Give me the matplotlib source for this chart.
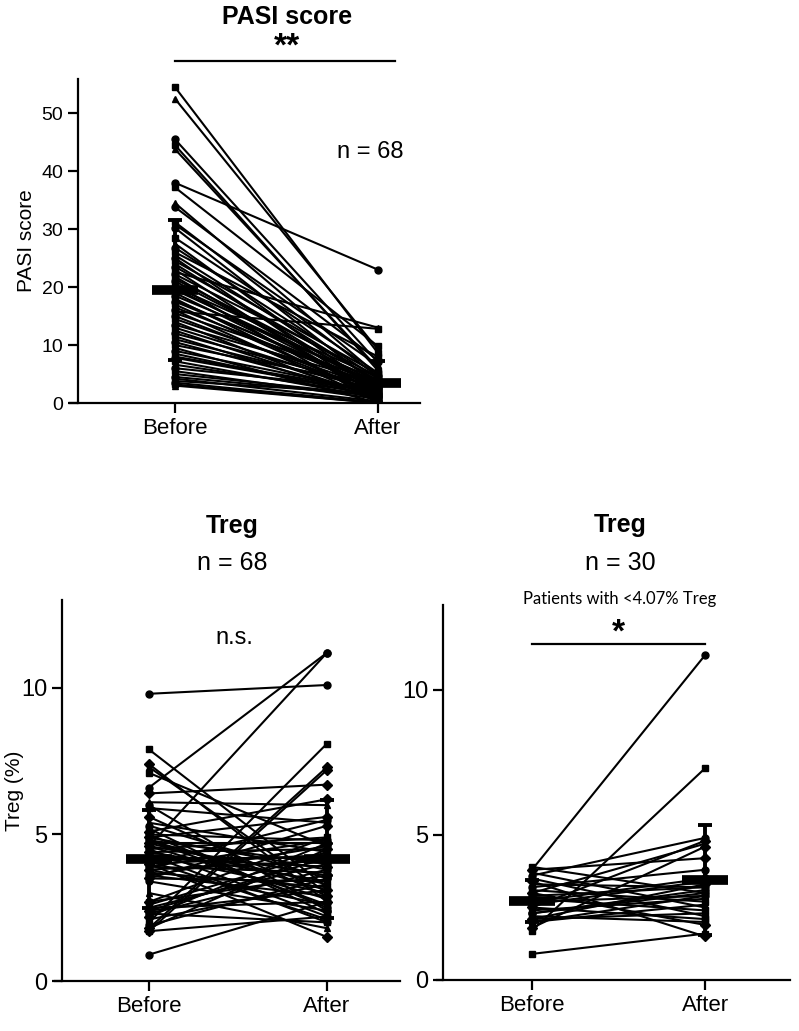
import numpy as np
import matplotlib.pyplot as plt

plt.rcParams['font.family'] = ['Liberation Sans', 'DejaVu Sans']

W, H = 799, 1031

groups = ["Before", "After"]

# PASI score, paired before/after (n = 68)
pasi_before = [54.5, 52.5, 45.5, 44.5, 43.8, 38.0, 37.2, 34.5, 33.8, 31.2,
               30.8, 30.2, 28.5, 27.5, 26.8, 26.0, 25.5, 25.0, 24.5, 24.0,
               23.5, 23.0, 22.6, 22.2, 21.8, 21.4, 21.0, 20.5, 20.0, 19.8,
               19.5, 19.0, 18.5, 18.0, 17.8, 17.5, 17.0, 16.5, 16.0, 15.8,
               15.5, 15.0, 14.5, 14.0, 13.5, 13.0, 12.5, 12.0, 11.5, 11.0,
               10.5, 10.0, 9.5, 9.0, 8.5, 8.0, 7.8, 7.2, 6.6, 6.0,
               5.5, 5.0, 4.5, 4.2, 3.8, 3.5, 3.2, 3.0]
pasi_after = [8.6, 9.2, 7.0, 5.6, 6.0, 23.0, 9.8, 4.8, 7.4, 4.5,
              6.5, 3.0, 5.2, 2.0, 4.2, 8.0, 3.6, 1.0, 5.0, 2.4,
              3.9, 0.5, 13.0, 4.6, 1.5, 3.4, 2.8, 0.0, 4.4, 2.2,
              3.3, 1.8, 4.0, 0.8, 2.6, 3.2, 1.2, 2.9, 0.4, 12.8,
              3.8, 1.6, 2.5, 0.2, 3.5, 2.1, 1.0, 2.7, 0.6, 2.3,
              1.4, 3.0, 0.0, 1.9, 1.1, 2.0, 1.7, 0.9, 1.5, 2.4,
              0.7, 1.3, 1.2, 0.3, 1.6, 0.1, 0.0, 0.0]

# Treg %, all patients (n = 68)
treg_before = [9.8, 7.9, 7.4, 7.3, 6.6, 7.1, 6.4, 6.1, 6.0, 5.9,
               5.6, 5.4, 5.3, 5.2, 5.1, 5.0, 5.0, 4.9, 4.9, 4.8,
               4.8, 4.8, 4.7, 4.7, 4.6, 4.6, 4.6, 4.5, 4.5, 4.4,
               4.4, 4.3, 4.3, 4.2, 4.2, 4.1, 4.0, 4.0, 4.0, 3.9,
               3.9, 3.8, 3.8, 3.7, 3.6, 3.6, 3.5, 3.5, 3.4, 2.7,
               2.7, 2.6, 2.5, 2.5, 2.4, 2.4, 2.3, 2.3, 2.2, 2.1,
               1.9, 2.0, 1.8, 1.8, 0.9, 1.7, 1.7, 3.0]
treg_after = [10.1, 3.2, 2.7, 3.0, 11.2, 4.6, 6.7, 6.0, 2.4, 5.4,
              2.9, 4.4, 3.5, 2.3, 6.2, 4.8, 2.5, 3.8, 5.6, 3.1,
              4.0, 2.6, 4.7, 3.3, 11.2, 2.8, 3.6, 4.9, 2.2, 3.4,
              4.5, 3.0, 2.0, 4.2, 3.9, 2.1, 5.5, 4.3, 1.5, 3.7,
              4.8, 2.6, 4.1, 3.2, 4.6, 2.9, 5.3, 3.4, 2.4, 4.9,
              3.6, 4.4, 2.7, 4.0, 3.1, 4.2, 3.8, 2.0, 4.7, 3.3,
              3.5, 8.1, 7.3, 4.5, 2.7, 2.2, 7.2, 1.8]

# Treg %, patients with <4.07% Treg (n = 30)
low_before = [3.8, 3.9, 3.8, 3.7, 3.6, 3.5, 3.4, 3.3, 3.2, 3.1,
              3.0, 3.0, 2.9, 2.8, 2.7, 2.7, 2.6, 2.5, 2.5, 2.4,
              2.3, 2.2, 2.1, 2.0, 2.3, 1.7, 1.8, 2.1, 2.0, 0.9]
low_after = [11.2, 3.0, 4.2, 2.5, 4.9, 2.2, 1.5, 3.2, 3.8, 2.7,
             1.9, 4.7, 3.2, 2.4, 3.5, 2.9, 3.4, 2.1, 4.8, 2.8,
             3.0, 2.0, 3.3, 2.6, 3.1, 7.3, 4.6, 2.3, 2.9, 1.6]

pasi_markers = ['s', '^', 'o']
treg_markers = ['o', 's', 'D', '^']

fig = plt.figure(figsize=(W / 100, H / 100), dpi=100)


def px_axes(left, top, right, bottom):
    return fig.add_axes([left / W, 1 - bottom / H, (right - left) / W, (bottom - top) / H])


def paired_plot(ax, before, after, mk, bar_w, ylim, xlim, spine_x, ytick_size):
    for i, (b, a) in enumerate(zip(before, after)):
        ax.plot([0, 1], [b, a], color='black', lw=1.5, marker=mk[i % len(mk)],
                ms=5, mfc='black', mec='black', zorder=2)
    for x, vals in enumerate([before, after]):
        m = np.mean(vals)
        sd = np.std(vals, ddof=1)
        ax.errorbar(x, m, yerr=sd, color='black', elinewidth=2.8, capsize=5,
                    capthick=2.8, zorder=3)
        ax.plot([x - bar_w / 2, x + bar_w / 2], [m, m], color='black', lw=7,
                solid_capstyle='butt', zorder=4)
    ax.set_xlim(*xlim)
    ax.set_ylim(*ylim)
    for s in ['top', 'right']:
        ax.spines[s].set_visible(False)
    ax.spines['left'].set_position(('data', spine_x))
    for s in ['left', 'bottom']:
        ax.spines[s].set_linewidth(1.6)
    ax.set_xticks([0, 1])
    ax.set_xticklabels(groups, fontsize=16)
    ax.tick_params(axis='both', width=1.6, length=7, colors='black')
    ax.tick_params(axis='y', labelsize=ytick_size)


# top panel: PASI score
ax1 = px_axes(70, 79, 420, 403)
paired_plot(ax1, pasi_before, pasi_after, pasi_markers, 0.23, (0, 55.9),
            (-0.517, 1.207), -0.478, 14)
ax1.set_yticks([0, 10, 20, 30, 40, 50])
ax1.set_ylabel("PASI score", fontsize=15, labelpad=4)
ax1.text(0.96, 43.3, "n = 68", fontsize=17, ha='center', va='center')
ax1.plot([0, 1.085], [59.0, 59.0], color='black', lw=1.6, clip_on=False)
fig.text(287 / W, 1 - 17 / H, "PASI score", fontsize=18, fontweight='bold', ha='center', va='center')
fig.text(287 / W, 1 - 47 / H, "**", fontsize=24, fontweight='bold', ha='center', va='center')

# bottom left: Treg, all patients
ax2 = px_axes(55, 600, 400, 981)
paired_plot(ax2, treg_before, treg_after, treg_markers, 0.26, (0, 13.0),
            (-0.528, 1.410), -0.489, 17)
ax2.set_yticks([0, 5, 10])
ax2.set_ylabel("Treg (%)", fontsize=15, labelpad=-2)
ax2.text(0.48, 11.7, "n.s.", fontsize=17, ha='center', va='center')
fig.text(232 / W, 1 - 526 / H, "Treg", fontsize=18, fontweight='bold', ha='center', va='center')
fig.text(232 / W, 1 - 563 / H, "n = 68", fontsize=18, ha='center', va='center')

# bottom right: Treg, low-Treg patients
ax3 = px_axes(437, 605, 790, 980)
paired_plot(ax3, low_before, low_after, treg_markers, 0.27, (0, 12.93),
            (-0.549, 1.491), -0.514, 17)
ax3.set_yticks([0, 5, 10])
ax3.plot([0, 1], [11.6, 11.6], color='black', lw=1.6, clip_on=False)
ax3.text(0.5, 11.95, "*", fontsize=24, fontweight='bold', ha='center', va='center')
fig.text(620 / W, 1 - 525 / H, "Treg", fontsize=18, fontweight='bold', ha='center', va='center')
fig.text(620 / W, 1 - 563 / H, "n = 30", fontsize=18, ha='center', va='center')
fig.text(620 / W, 1 - 599 / H, "Patients with <4.07% Treg", fontsize=12,
         family=['Lato', 'DejaVu Sans'], ha='center', va='center')

fig.savefig("out.png", dpi=100)
